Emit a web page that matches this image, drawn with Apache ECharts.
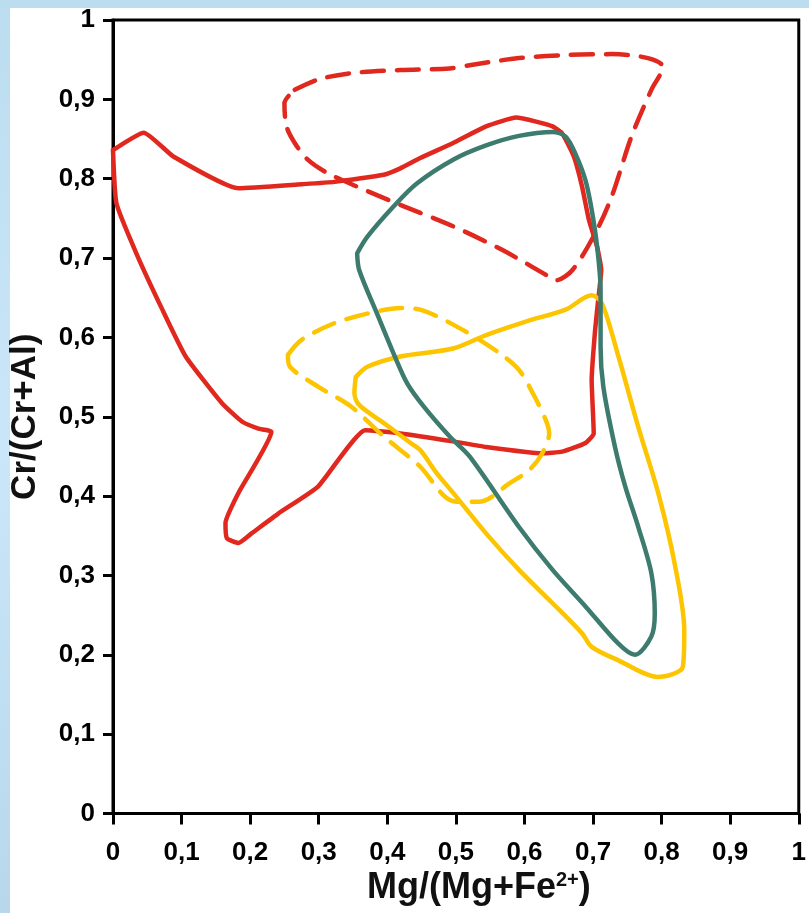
<!DOCTYPE html>
<html>
<head>
<meta charset="utf-8">
<script src="https://cdn.jsdelivr.net/npm/echarts@6/dist/echarts.min.js"></script>
<style>
html,body{margin:0;padding:0;}
#chart{width:809px;height:913px;}
</style>
</head>
<body>
<div id="chart"></div>
<script>
// Tick labels (comma decimal)
const xTickLabels = ['0','0,1','0,2','0,3','0,4','0,5','0,6','0,7','0,8','0,9','1'];
const yTickLabels = ['0','0,1','0,2','0,3','0,4','0,5','0,6','0,7','0,8','0,9','1'];

// Field outlines: [Mg/(Mg+Fe2+), Cr/(Cr+Al)]
const redSolid = [
  [0.000,0.836],[0.045,0.858],[0.088,0.828],[0.183,0.788],[0.275,0.793],[0.323,0.796],
  [0.395,0.805],[0.419,0.813],[0.448,0.826],[0.496,0.845],[0.544,0.866],[0.588,0.877],
  [0.617,0.872],[0.641,0.866],[0.655,0.857],[0.672,0.828],[0.684,0.790],[0.694,0.748],
  [0.706,0.714],[0.712,0.685],[0.708,0.651],[0.703,0.609],[0.698,0.546],[0.701,0.479],
  [0.689,0.467],[0.655,0.456],[0.626,0.454],[0.544,0.462],[0.496,0.469],[0.419,0.479],
  [0.368,0.483],[0.299,0.412],[0.241,0.378],[0.202,0.353],[0.183,0.341],[0.166,0.347],
  [0.164,0.366],[0.183,0.404],[0.231,0.481],[0.212,0.485],[0.188,0.494],[0.159,0.517],
  [0.106,0.576],[0.072,0.635],[0.034,0.706],[0.005,0.769],[0.000,0.836]
];
const redDashed = [
  [0.265,0.912],[0.299,0.925],[0.347,0.933],[0.419,0.937],[0.491,0.939],[0.520,0.943],
  [0.592,0.952],[0.665,0.956],[0.727,0.957],[0.780,0.952],[0.802,0.941],[0.785,0.912],
  [0.756,0.853],[0.727,0.777],[0.703,0.731],[0.670,0.685],[0.646,0.672],[0.631,0.679],
  [0.568,0.710],[0.496,0.740],[0.419,0.767],[0.356,0.790],[0.313,0.807],[0.284,0.824],
  [0.265,0.845],[0.253,0.866],[0.250,0.895],[0.265,0.912]
];
const greenSolid = [
  [0.356,0.706],[0.371,0.727],[0.409,0.765],[0.443,0.794],[0.496,0.824],[0.544,0.842],
  [0.592,0.854],[0.641,0.859],[0.660,0.853],[0.674,0.832],[0.689,0.798],[0.698,0.761],
  [0.706,0.714],[0.711,0.660],[0.711,0.588],[0.715,0.538],[0.732,0.462],[0.747,0.412],
  [0.766,0.361],[0.785,0.303],[0.790,0.252],[0.785,0.223],[0.761,0.200],[0.737,0.214],
  [0.689,0.261],[0.641,0.307],[0.592,0.361],[0.520,0.450],[0.491,0.475],[0.453,0.513],
  [0.429,0.542],[0.409,0.580],[0.385,0.630],[0.359,0.685],[0.356,0.706]
];
const yellowSolid = [
  [0.354,0.550],[0.371,0.563],[0.419,0.576],[0.496,0.586],[0.544,0.603],[0.602,0.620],
  [0.660,0.635],[0.698,0.653],[0.713,0.643],[0.737,0.576],[0.766,0.487],[0.795,0.404],
  [0.819,0.315],[0.833,0.231],[0.831,0.185],[0.795,0.172],[0.737,0.193],[0.698,0.210],
  [0.684,0.227],[0.641,0.265],[0.592,0.307],[0.544,0.353],[0.496,0.404],[0.472,0.429],
  [0.448,0.458],[0.434,0.467],[0.395,0.492],[0.359,0.515],[0.352,0.530],[0.354,0.550]
];
const yellowDashed = [
  [0.255,0.578],[0.275,0.597],[0.323,0.618],[0.371,0.630],[0.419,0.637],[0.448,0.635],
  [0.511,0.609],[0.564,0.580],[0.592,0.559],[0.612,0.530],[0.631,0.496],[0.636,0.479],
  [0.626,0.454],[0.607,0.433],[0.578,0.416],[0.535,0.393],[0.501,0.393],[0.482,0.401],
  [0.448,0.437],[0.395,0.475],[0.347,0.513],[0.299,0.538],[0.258,0.563],[0.255,0.578]
];

const RED = '#E0281E', GREEN = '#3E7B6F', YELLOW = '#FCC500';
const FONT = 'Liberation Sans, Arial, sans-serif';

function outline(name, data, color, dashed, smooth) {
  return {
    name: name, type: 'line', data: data, symbol: 'none', smooth: smooth,
    lineStyle: { color: color, width: 4.5, type: dashed ? [22, 13] : 'solid', cap: 'round', join: 'round' },
    silent: true, animation: false
  };
}

const chart = echarts.init(document.getElementById('chart'), null, { renderer: 'canvas' });
chart.setOption({
  animation: false,
  backgroundColor: {
    type: 'linear', x: 0, y: 0, x2: 0, y2: 1,
    colorStops: [
      { offset: 0, color: '#BCDCEF' },
      { offset: 0.5, color: '#CAE7F9' },
      { offset: 1, color: '#B8D7EB' }
    ]
  },
  graphic: [{
    type: 'rect', left: 10, top: 8, z: -10, silent: true,
    shape: { width: 799, height: 905 },
    style: { fill: '#ffffff' }
  }],
  grid: {
    left: 110, right: 7, top: 20, bottom: 99.5,
    show: true, borderColor: '#000', borderWidth: 3, backgroundColor: 'transparent'
  },
  xAxis: {
    type: 'value', min: 0, max: 1, interval: 0.1,
    name: '{b|Mg/(Mg+Fe}{s|2+}{b|)}',
    nameLocation: 'middle', nameGap: 50,
    nameTextStyle: {
      padding: [0, 0, 0, 46],
      rich: {
        b: { fontFamily: FONT, fontWeight: 'bold', fontSize: 36, color: '#111' },
        s: { fontFamily: FONT, fontWeight: 'bold', fontSize: 20, color: '#111', verticalAlign: 'top' }
      }
    },
    axisLine: { lineStyle: { color: '#000', width: 3 } },
    axisTick: { length: 11, lineStyle: { color: '#000', width: 3 } },
    splitLine: { show: false },
    axisLabel: {
      margin: 26, color: '#000', fontFamily: FONT, fontWeight: 'bold', fontSize: 26,
      formatter: function (v) { return xTickLabels[Math.round(v * 10)]; }
    }
  },
  yAxis: {
    type: 'value', min: 0, max: 1, interval: 0.1,
    name: 'Cr/(Cr+Al)', nameLocation: 'middle', nameGap: 70,
    nameTextStyle: { fontFamily: FONT, fontWeight: 'bold', fontSize: 35, color: '#111' },
    axisLine: { lineStyle: { color: '#000', width: 3 } },
    axisTick: { length: 10, lineStyle: { color: '#000', width: 3 } },
    splitLine: { show: false },
    axisLabel: {
      margin: 18, color: '#000', fontFamily: FONT, fontWeight: 'bold', fontSize: 26,
      formatter: function (v) { return yTickLabels[Math.round(v * 10)]; }
    }
  },
  series: [
    outline('Red field', redSolid, RED, false, 0.15),
    outline('Red dashed field', redDashed, RED, true, 0.3),
    outline('Yellow dashed field', yellowDashed, YELLOW, true, 0.3),
    outline('Yellow field', yellowSolid, YELLOW, false, 0.3),
    outline('Green field', greenSolid, GREEN, false, 0.3)
  ]
});
</script>
</body>
</html>
